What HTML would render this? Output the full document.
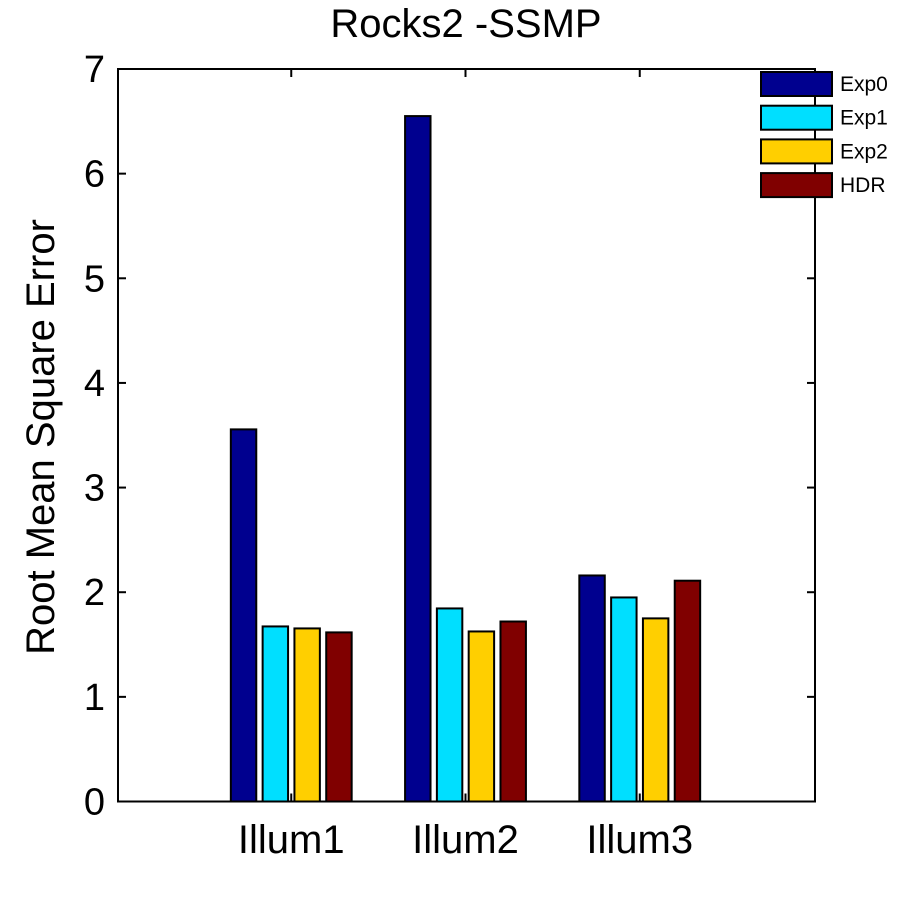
<!DOCTYPE html>
<html><head><meta charset="utf-8"><style>
body{margin:0;background:#fff}
svg text{font-family:"Liberation Sans",Arial,sans-serif;fill:#000}
</style></head><body>
<svg width="901" height="901" viewBox="0 0 901 901">
<rect width="901" height="901" fill="#fff"/>
<text x="466" y="37" font-size="40" text-anchor="middle">Rocks2 -SSMP</text>
<text transform="translate(54,437) rotate(-90)" font-size="40" text-anchor="middle">Root Mean Square Error</text>
<g id="bars"></g>
<g id="axes"></g>
<g id="legend"></g>
</svg>
<script>
const categories=["Illum1","Illum2","Illum3"];
const seriesNames=["Exp0","Exp1","Exp2","HDR"];
const seriesColors=["#00008f","#00dfff","#ffcf00","#800000"];
const exp0=[3.556,6.55,2.16];
const exp1=[1.673,1.845,1.95];
const exp2=[1.654,1.625,1.75];
const hdr=[1.616,1.72,2.11];
const yTicks=[0,1,2,3,4,5,6,7];
const series=[exp0,exp1,exp2,hdr];
const NS="http://www.w3.org/2000/svg";
const L=118,R=815,T=69,B=801.5;
const xs=v=>L+(v)/4*(R-L);
const ys=v=>B-v/7*(B-T);
function mk(tag,attrs,parent){const e=document.createElementNS(NS,tag);for(const k in attrs)e.setAttribute(k,attrs[k]);parent.appendChild(e);return e;}
const gb=document.getElementById('bars'),ga=document.getElementById('axes'),gl=document.getElementById('legend');
const step=0.1825,bw=0.146;
categories.forEach((c,i)=>{
  series.forEach((s,j)=>{
    const cx=(i+1)+(j-1.5)*step;
    const x0=xs(cx-bw/2)-1,x1=xs(cx+bw/2)-1;
    const r=mk('rect',{x:x0,y:ys(s[i]),width:x1-x0,height:ys(0)-ys(s[i]),fill:seriesColors[j],stroke:'#000','stroke-width':2},gb);
    
    
  });
});
const box=mk('rect',{x:L,y:T,width:R-L,height:B-T,fill:'none',stroke:'#000','stroke-width':2},ga);


yTicks.forEach(v=>{
  const y=ys(v);
  mk('line',{x1:L,x2:L+8,y1:y,y2:y,stroke:'#000','stroke-width':2},ga);
  mk('line',{x1:R,x2:R-8,y1:y,y2:y,stroke:'#000','stroke-width':2},ga);
  const t=mk('text',{x:L-13,y:y+13,'font-size':38,'text-anchor':'end'},ga);
  t.textContent=v;
  
  
});
categories.forEach((c,i)=>{
  const x=xs(i+1)-1;
  mk('line',{x1:x,x2:x,y1:B,y2:B-8,stroke:'#000','stroke-width':2},ga);
  mk('line',{x1:x,x2:x,y1:T,y2:T+8,stroke:'#000','stroke-width':2},ga);
  const t=mk('text',{x:x,y:853,'font-size':40,'text-anchor':'middle'},ga);
  t.textContent=c;
  
  
});
seriesNames.forEach((n,j)=>{
  const y=72+j*33.7;
  const r=mk('rect',{x:761,y:y,width:71,height:24,fill:seriesColors[j],stroke:'#000','stroke-width':2},gl);
  
  
  const t=mk('text',{x:840,y:y+19,'font-size':21},gl);
  t.textContent=n;
  
  
});
</script>
</body></html>
